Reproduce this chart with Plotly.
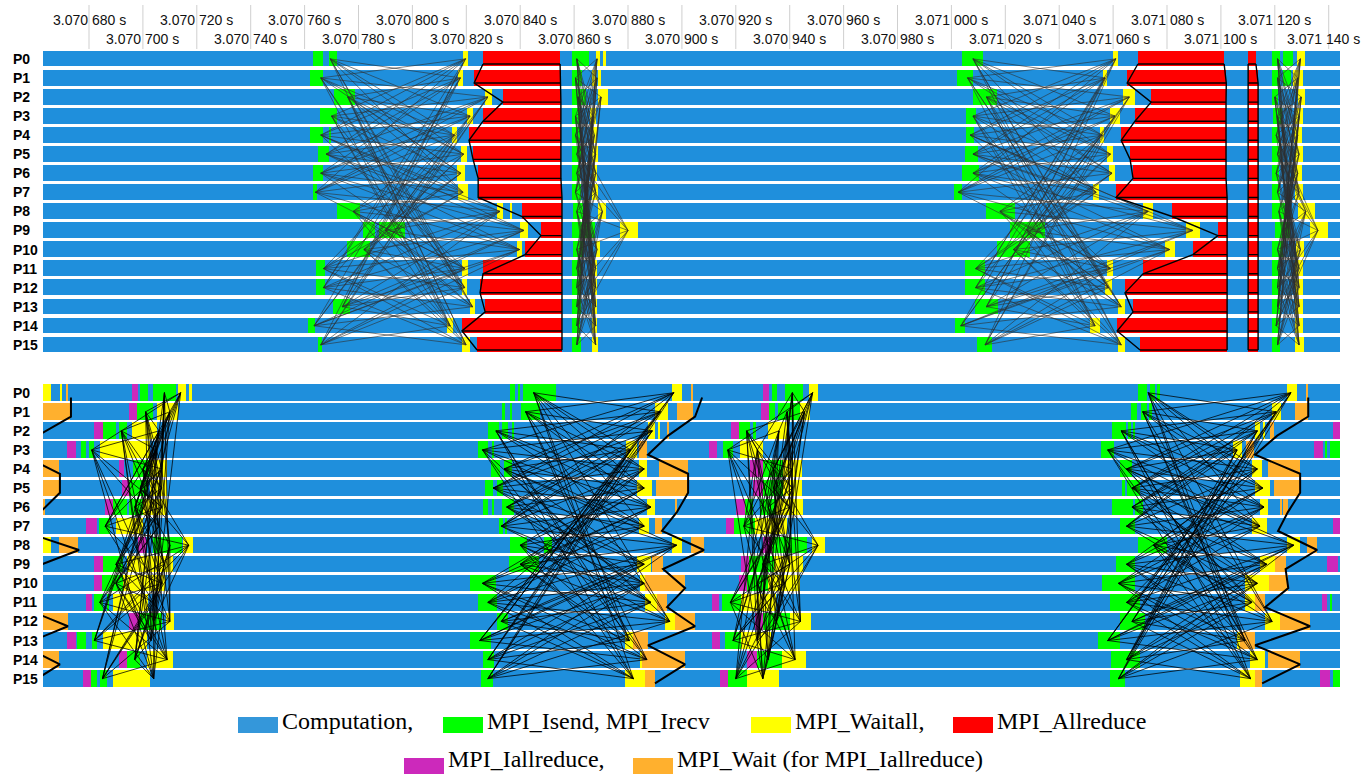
import plotly.graph_objects as go

W, H = 1362, 774

# ---------------------------------------------------------------- data ---
# Times are microseconds after 3.070 000 s.
VIEW_START, VIEW_END = 662.93, 1144.19
PROCESSES = ["P%d" % i for i in range(16)]

TICK_TIMES = [680, 700, 720, 740, 760, 780, 800, 820, 840, 860, 880, 900,
              920, 940, 960, 980, 1000, 1020, 1040, 1060, 1080, 1100, 1120, 1140]
TICK_LABELS = ["3.070 680 s", "3.070 700 s", "3.070 720 s", "3.070 740 s",
               "3.070 760 s", "3.070 780 s", "3.070 800 s", "3.070 820 s",
               "3.070 840 s", "3.070 860 s", "3.070 880 s", "3.070 900 s",
               "3.070 920 s", "3.070 940 s", "3.070 960 s", "3.070 980 s",
               "3.071 000 s", "3.071 020 s", "3.071 040 s", "3.071 060 s",
               "3.071 080 s", "3.071 100 s", "3.071 120 s", "3.071 140 s"]

# communication partners of every rank (4x4 periodic grid, 8 neighbours)
PARTNERS = [
    [1, 3, 4, 5, 7, 12, 13, 15], [0, 2, 4, 5, 6, 12, 13, 14],
    [1, 3, 5, 6, 7, 13, 14, 15], [0, 2, 4, 6, 7, 12, 14, 15],
    [0, 1, 3, 5, 7, 8, 9, 11], [0, 1, 2, 4, 6, 8, 9, 10],
    [1, 2, 3, 5, 7, 9, 10, 11], [0, 2, 3, 4, 6, 8, 10, 11],
    [4, 5, 7, 9, 11, 12, 13, 15], [4, 5, 6, 8, 10, 12, 13, 14],
    [5, 6, 7, 9, 11, 13, 14, 15], [4, 6, 7, 8, 10, 12, 14, 15],
    [0, 1, 3, 8, 9, 11, 13, 15], [0, 1, 2, 8, 9, 10, 12, 14],
    [1, 2, 3, 9, 10, 11, 13, 15], [0, 2, 3, 8, 10, 11, 12, 14],
]

# ---- blocking version (upper timeline)
TOP_ISEND = [
    [(763.1, 766.8), (769.1, 772.0), (859.2, 865.5), (1003.9, 1011.7), (1119.0, 1122.0), (1123.1, 1126.8)],
    [(762.0, 766.8), (859.2, 863.0), (1002.1, 1008.0), (1119.0, 1122.0), (1123.1, 1126.0)],
    [(770.9, 778.7), (859.2, 864.4), (1008.0, 1016.9), (1119.0, 1121.2)],
    [(765.7, 772.0), (859.2, 862.2), (1005.4, 1009.1), (1119.5, 1122.5)],
    [(762.0, 766.8), (769.1, 769.8), (859.2, 862.2), (1005.4, 1008.4), (1119.0, 1121.5)],
    [(765.0, 769.1), (859.2, 862.5), (1005.1, 1009.9), (1119.0, 1122.0)],
    [(763.1, 766.8), (859.2, 862.0), (1003.9, 1010.3), (1119.0, 1121.5)],
    [(763.1, 764.6), (859.2, 862.5), (1001.0, 1003.9), (1119.0, 1122.0)],
    [(772.0, 780.6), (859.6, 863.3), (1012.8, 1023.6), (1119.0, 1123.8)],
    [(781.7, 786.0), (787.5, 797.3), (859.2, 867.8), (1021.8, 1034.7), (1120.1, 1125.7)],
    [(775.7, 784.3), (859.6, 863.3), (1016.9, 1029.2), (1119.0, 1123.0)],
    [(764.2, 767.6), (859.2, 862.5), (1005.1, 1012.5), (1119.0, 1122.0)],
    [(764.2, 767.6), (859.2, 862.5), (1005.1, 1012.5), (1119.0, 1122.0)],
    [(770.5, 776.9), (859.2, 862.5), (1008.8, 1017.3), (1119.0, 1122.0)],
    [(761.3, 763.9), (859.2, 862.0), (1001.4, 1005.1), (1119.0, 1121.5)],
    [(765.0, 766.5), (859.2, 862.5), (1009.5, 1015.1), (1119.0, 1122.0)],
]
TOP_WAITALL = [
    [(818.8, 820.6), (868.1, 869.6), (870.7, 871.8), (1060.0, 1061.8), (1128.3, 1131.2)],
    [(816.9, 818.8), (866.7, 868.0), (869.0, 870.0), (1056.3, 1057.8), (1126.8, 1130.5)],
    [(827.0, 829.5), (868.9, 872.6), (1063.7, 1068.1), (1128.6, 1131.2)],
    [(820.3, 822.5), (865.9, 868.1), (1058.9, 1062.6), (1127.5, 1130.5)],
    [(814.7, 816.6), (866.0, 868.5), (1055.2, 1056.6), (1127.0, 1130.0)],
    [(818.0, 820.3), (866.5, 869.0), (1057.8, 1060.0), (1127.5, 1130.5)],
    [(816.6, 819.5), (866.5, 868.5), (1058.5, 1060.7), (1127.0, 1130.0)],
    [(816.9, 820.6), (866.5, 869.0), (1052.6, 1054.8), (1127.5, 1130.5)],
    [(831.4, 833.6), (836.2, 837.0), (868.9, 871.8), (1071.1, 1074.8), (1128.6, 1134.9)],
    [(839.9, 842.9), (877.0, 883.7), (1087.1, 1092.2), (1133.1, 1139.8)],
    [(838.8, 840.7), (868.1, 869.6), (1079.3, 1083.0), (1128.0, 1131.0)],
    [(818.4, 820.6), (866.5, 868.5), (1057.8, 1060.0), (1127.5, 1130.5)],
    [(818.4, 820.3), (866.5, 868.5), (1057.0, 1059.6), (1127.5, 1130.5)],
    [(821.4, 823.2), (866.5, 868.5), (1061.8, 1064.4), (1127.5, 1130.5)],
    [(812.8, 815.1), (866.5, 868.5), (1051.4, 1055.2), (1127.5, 1130.5)],
    [(818.4, 821.4), (866.5, 869.0), (1061.8, 1064.4), (1127.5, 1131.0)],
]
# three MPI_Allreduce calls, (enter, leave) per rank
ALLREDUCE_1 = [(826.2, 854.8), (822.9, 855.0), (833.6, 855.1), (826.2, 855.1),
               (821.0, 855.1), (822.5, 855.1), (824.4, 855.1), (824.4, 855.5),
               (840.7, 855.5), (847.7, 855.5), (841.8, 855.5), (826.2, 855.5),
               (825.1, 855.5), (827.0, 855.5), (818.4, 855.5), (824.0, 855.5)]
ALLREDUCE_2 = [(1069.2, 1101.2), (1065.2, 1102.0), (1074.1, 1101.9), (1068.1, 1101.9),
               (1063.0, 1101.9), (1066.3, 1101.9), (1067.4, 1101.9), (1061.1, 1102.3),
               (1081.9, 1102.3), (1098.9, 1102.3), (1089.6, 1102.3), (1071.1, 1102.3),
               (1064.4, 1102.3), (1067.4, 1102.3), (1061.5, 1102.3), (1070.0, 1102.3)]
ALLREDUCE_3 = [(1110.1, 1113.0), (1110.1, 1113.8), (1110.1, 1113.8), (1110.0, 1113.8),
               (1110.0, 1113.8), (1110.0, 1113.8), (1110.0, 1113.8), (1110.1, 1113.8),
               (1110.1, 1113.8), (1110.2, 1113.8), (1110.1, 1113.8), (1110.1, 1113.8),
               (1110.1, 1113.8), (1110.1, 1113.8), (1110.1, 1113.8), (1110.1, 1113.8)]

# message send / receive instants per rank, one phase each
TOP_SEND = [
    [769.5, 766.0, 776.0, 770.0, 766.0, 768.0, 766.0, 764.0, 778.0, 790.0, 782.0, 767.0, 767.0, 774.0, 763.5, 766.0],
    [861.0, 860.5, 861.5, 860.5, 860.5, 861.0, 861.0, 860.5, 861.0, 863.0, 861.0, 861.0, 861.0, 861.0, 861.0, 861.0],
    [1008.0, 1006.0, 1013.0, 1008.0, 1007.0, 1008.0, 1008.0, 1002.5, 1018.0, 1028.0, 1023.0, 1009.0, 1009.0, 1013.0, 1003.5, 1012.5],
    [1121.0, 1121.0, 1120.0, 1121.0, 1120.5, 1121.0, 1120.5, 1121.0, 1121.5, 1123.0, 1121.0, 1121.0, 1121.0, 1121.0, 1120.5, 1121.0],
]
TOP_RECV = [
    [819.7, 817.8, 828.0, 821.4, 815.6, 819.0, 818.0, 818.8, 832.5, 841.4, 839.8, 819.5, 819.4, 822.3, 814.0, 819.9],
    [868.5, 868.5, 870.0, 867.0, 867.5, 868.0, 868.0, 868.0, 870.5, 880.0, 868.5, 868.0, 868.0, 868.0, 868.0, 868.0],
    [1061.0, 1057.0, 1066.0, 1060.7, 1056.0, 1059.0, 1059.6, 1053.7, 1073.0, 1089.6, 1081.0, 1059.0, 1058.3, 1063.0, 1053.3, 1063.0],
    [1129.5, 1128.5, 1129.8, 1129.0, 1128.5, 1129.0, 1128.5, 1129.0, 1131.5, 1136.0, 1129.5, 1129.0, 1129.0, 1129.0, 1129.0, 1129.0],
]

# ---- non-blocking version (lower timeline)
BOT_IALLREDUCE = [
    [(696.0, 698.2), (930.1, 932.3)],
    [(694.8, 697.8), (929.4, 932.3)],
    [(681.9, 685.2), (918.2, 921.2), (1141.6, 1144.2)],
    [(671.8, 675.2), (910.1, 913.0), (1134.6, 1137.9)],
    [(691.1, 693.0), (925.3, 930.1)],
    [(692.2, 694.8), (926.4, 930.1)],
    [(686.0, 688.9), (920.1, 923.4)],
    [(678.9, 683.0), (916.4, 919.4), (1141.6, 1144.2)],
    [(698.2, 701.2), (930.1, 933.4)],
    [(681.9, 685.2), (922.0, 925.0), (1139.4, 1143.5)],
    [(681.9, 684.8), (921.0, 924.0)],
    [(678.9, 681.1), (911.2, 913.8), (1137.6, 1139.4)],
    [(694.8, 698.6), (927.0, 930.0)],
    [(671.8, 675.2), (911.0, 914.0)],
    [(691.1, 694.1), (924.0, 928.0)],
    [(677.8, 680.7), (914.0, 917.0), (1136.8, 1140.5)],
]
BOT_ISEND = [
    [(698.9, 701.9), (703.8, 712.3), (836.2, 838.1), (839.2, 839.9), (841.1, 853.3), (933.4, 935.3), (938.3, 945.0), (1069.2, 1072.6), (1073.7, 1075.6), (1076.3, 1077.4)],
    [(697.8, 703.8), (833.3, 834.4), (836.2, 837.0), (840.3, 847.4), (932.3, 934.6), (935.7, 943.8), (1066.6, 1068.9), (1070.4, 1072.6), (1073.3, 1074.4)],
    [(685.2, 690.0), (691.1, 694.1), (828.1, 832.1), (833.3, 835.5), (837.0, 837.7), (921.2, 925.3), (926.4, 927.5), (1059.6, 1064.8), (1065.5, 1066.6), (1067.4, 1068.1)],
    [(677.0, 678.9), (680.0, 681.9), (824.4, 828.1), (829.5, 830.3), (915.3, 919.0), (1055.5, 1060.4), (1138.6, 1139.4), (1140.5, 1144.2)],
    [(696.3, 702.6), (829.2, 832.5), (834.0, 837.0), (930.1, 937.5), (1062.6, 1067.0)],
    [(694.8, 701.5), (827.0, 829.9), (831.4, 833.6), (930.1, 937.5), (1063.3, 1064.4), (1065.2, 1070.0)],
    [(688.9, 694.1), (694.8, 700.0), (826.2, 828.1), (829.5, 830.3), (833.3, 837.7), (923.4, 926.4), (929.0, 935.0), (1059.6, 1067.4), (1068.1, 1071.1)],
    [(683.7, 687.8), (832.1, 833.6), (834.4, 835.0), (919.4, 927.1), (1062.6, 1068.1)],
    [(703.8, 714.5), (836.2, 842.5), (848.8, 851.8), (933.4, 946.4), (1069.2, 1080.0)],
    [(685.2, 692.6), (836.0, 847.0), (925.0, 934.0), (1061.0, 1068.0)],
    [(684.8, 692.6), (821.4, 831.0), (924.0, 932.0), (1056.0, 1068.0)],
    [(681.9, 685.2), (686.7, 687.3), (824.4, 831.4), (915.0, 922.0), (1058.9, 1070.0), (1140.5, 1141.2)],
    [(698.6, 707.1), (831.4, 835.5), (930.0, 940.0), (1062.6, 1071.9)],
    [(675.6, 678.9), (681.1, 683.0), (821.4, 829.0), (916.0, 922.0), (1054.4, 1062.6)],
    [(694.1, 699.0), (826.2, 830.3), (928.0, 937.0), (1059.2, 1070.0)],
    [(680.7, 683.0), (684.1, 686.7), (825.5, 830.0), (917.0, 924.0), (1058.9, 1064.4), (1141.6, 1144.2)],
]
BOT_WAITALL = [
    [(662.9, 665.9), (669.2, 670.0), (713.0, 716.0), (717.1, 718.2), (896.3, 900.1), (947.2, 950.5), (1124.5, 1128.3)],
    [(705.2, 713.0), (890.0, 894.9), (943.8, 947.5), (1119.0, 1122.3)],
    [(696.0, 705.2), (887.4, 890.0), (891.1, 891.9), (932.0, 939.0), (1112.7, 1114.5), (1115.5, 1116.4)],
    [(684.1, 702.6), (879.3, 883.4), (921.6, 930.1), (1104.5, 1107.8)],
    [(702.6, 709.0), (884.1, 887.1), (937.5, 944.6), (1111.5, 1115.3)],
    [(702.6, 709.0), (883.4, 888.9), (937.5, 944.6), (1112.7, 1118.2)],
    [(700.0, 709.0), (887.1, 890.0), (935.0, 945.0), (1114.5, 1117.5)],
    [(690.0, 700.0), (884.1, 887.8), (927.1, 939.0), (1111.5, 1117.1)],
    [(662.9, 665.9), (714.9, 718.6), (896.3, 900.1), (948.3, 953.1), (1124.5, 1129.4)],
    [(694.1, 711.0), (883.5, 888.5), (934.0, 945.0), (1114.5, 1120.0)],
    [(692.6, 708.2), (884.5, 888.0), (932.0, 944.0), (1108.9, 1118.0)],
    [(688.9, 701.9), (886.3, 890.8), (922.0, 935.0), (1108.9, 1114.5)],
    [(708.5, 711.5), (893.7, 897.5), (940.0, 948.0), (1116.4, 1122.0)],
    [(685.2, 701.5), (878.9, 881.9), (922.0, 933.0), (1106.0, 1112.7)],
    [(701.5, 711.2), (884.5, 890.0), (937.0, 946.0), (1110.8, 1116.4)],
    [(688.9, 702.6), (878.9, 886.3), (924.0, 936.0), (1107.1, 1114.5)],
]
BOT_WAIT = [
    [(671.8, 672.2), (903.4, 904.1), (1131.6, 1132.4)],
    [(662.9, 673.0), (898.2, 904.1), (1127.5, 1132.4)],
    [(894.5, 895.2), (1118.2, 1119.7)],
    [(884.1, 887.1), (1109.3, 1112.3)],
    [(662.9, 668.9), (891.5, 902.3), (1117.5, 1129.4)],
    [(662.9, 668.9), (890.4, 902.3), (1119.7, 1129.4)],
    [(662.9, 663.7), (897.5, 898.2), (1122.0, 1122.7), (1123.0, 1124.9)],
    [(890.0, 892.6)],
    [(668.9, 675.9), (903.4, 908.2), (1132.0, 1135.7)],
    [(889.0, 893.0), (1120.0, 1124.0)],
    [(886.3, 901.2), (1118.0, 1125.0)],
    [(890.8, 894.5), (1112.7, 1116.4)],
    [(662.9, 672.2), (897.5, 904.9), (1122.0, 1133.1)],
    [(881.9, 887.4), (1107.1, 1112.7)],
    [(662.9, 668.9), (885.2, 901.2), (1117.5, 1129.4)],
    [(886.3, 890.0), (1112.7, 1115.3)],
]
# completion instant of each MPI_Wait, per rank, for three Iallreduce rounds
WAIT_DONE = [
    [673.3, 673.3, 661.0, 655.0, 669.2, 669.2, 662.0, 655.0, 676.3, 658.0, 655.0, 655.0, 672.2, 655.0, 669.2, 658.0],
    [907.5, 904.9, 894.9, 887.4, 902.3, 902.3, 898.2, 892.6, 908.2, 893.0, 901.2, 894.5, 904.9, 887.4, 901.2, 890.0],
    [1132.4, 1132.4, 1120.9, 1112.7, 1129.4, 1129.4, 1124.9, 1121.2, 1135.7, 1124.0, 1125.0, 1116.4, 1133.1, 1112.7, 1129.4, 1115.3],
]
BOT_SEND = [
    [708.0, 701.0, 692.0, 681.0, 700.0, 699.0, 697.0, 686.0, 710.0, 690.0, 690.0, 684.0, 704.0, 682.0, 697.0, 685.0],
    [845.0, 842.0, 831.0, 826.0, 834.0, 830.0, 835.0, 833.0, 840.0, 840.0, 826.0, 828.0, 833.0, 825.0, 828.0, 828.0],
    [941.0, 939.0, 924.0, 917.0, 934.0, 934.0, 932.0, 923.0, 940.0, 930.0, 928.0, 918.0, 935.0, 919.0, 932.0, 920.0],
    [1073.0, 1071.0, 1063.0, 1058.0, 1065.0, 1067.0, 1067.0, 1065.0, 1075.0, 1065.0, 1062.0, 1065.0, 1067.0, 1058.0, 1065.0, 1062.0],
]
BOT_RECV = [
    [714.0, 710.0, 706.0, 705.0, 707.0, 707.0, 707.0, 706.0, 717.0, 708.0, 707.0, 704.0, 710.0, 703.0, 709.0, 704.0],
    [897.0, 892.0, 889.0, 881.0, 886.0, 886.0, 888.5, 886.0, 898.0, 886.0, 886.0, 888.5, 895.5, 880.5, 887.0, 882.0],
    [948.5, 945.5, 936.0, 928.0, 941.0, 941.0, 940.0, 935.0, 950.5, 940.0, 938.0, 930.0, 944.0, 928.0, 942.0, 930.0],
    [1126.0, 1120.5, 1113.5, 1106.0, 1113.5, 1115.5, 1116.0, 1114.5, 1127.0, 1117.0, 1113.5, 1111.5, 1119.0, 1109.0, 1113.5, 1111.0],
]

# ------------------------------------------------------------- styling ---
C_COMP = "#1f8fdc"
C_COMP_KEY = "#3497da"
C_ISEND = "#00ff00"
C_WAITALL = "#ffff00"
C_ALLRED = "#ff0000"
C_IALLRED = "#cc29bb"
C_WAIT = "#ffb02e"

PX_LEFT, PX_RIGHT = 43, 1340
TOP_BAND = (49.3, 354.4)
BOT_BAND = (383.2, 688.2)


def py(px):
    return 1 - px / H


def px(x):
    return x / W


fig = go.Figure()


def add_bars(segments, color, xa, ya, width):
    ys, lens, bases = [], [], []
    for rank, segs in enumerate(segments):
        for s, e in segs:
            ys.append(rank)
            bases.append(s)
            lens.append(e - s)
    fig.add_trace(go.Bar(orientation="h", y=ys, x=lens, base=bases, width=width,
                         marker=dict(color=color, line=dict(width=0)),
                         xaxis=xa, yaxis=ya, showlegend=False, hoverinfo="skip"))


def add_messages(sends, recvs, xa, ya, color, lw):
    xs, ys = [], []
    for send, recv in zip(sends, recvs):
        for src, dsts in enumerate(PARTNERS):
            for dst in dsts:
                xs += [send[src], recv[dst], None]
                ys += [src, dst, None]
    fig.add_trace(go.Scatter(x=xs, y=ys, mode="lines", line=dict(color=color, width=lw),
                             xaxis=xa, yaxis=ya, showlegend=False, hoverinfo="skip"))


def add_collective(calls, xa, ya):
    xs, ys = [], []
    for call in calls:
        off = 0.27
        xs += [s for s, _ in call] + [None]
        ys += [r + off for r in range(16)] + [None]
        xs += [e for _, e in call] + [None]
        ys += [r + off for r in range(16)] + [None]
        for r, (s, e) in enumerate(call):
            xs += [s, e, None]
            ys += [r + off, r + off, None]
    fig.add_trace(go.Scatter(x=xs, y=ys, mode="lines", line=dict(color="black", width=1.4),
                             xaxis=xa, yaxis=ya, showlegend=False, hoverinfo="skip"))


full_row = [[(VIEW_START, VIEW_END)] for _ in PROCESSES]

# upper timeline
add_bars(full_row, C_COMP, "x", "y", 0.83)
add_bars(TOP_ISEND, C_ISEND, "x", "y", 0.83)
add_bars(TOP_WAITALL, C_WAITALL, "x", "y", 0.83)
add_bars([[a, b, c] for a, b, c in zip(ALLREDUCE_1, ALLREDUCE_2, ALLREDUCE_3)], C_ALLRED, "x", "y", 0.83)
add_messages(TOP_SEND, TOP_RECV, "x", "y", "rgba(45,45,45,0.85)", 0.7)
add_collective([ALLREDUCE_1, ALLREDUCE_2, ALLREDUCE_3], "x", "y")

# lower timeline
add_bars(full_row, C_COMP, "x2", "y2", 0.87)
add_bars(BOT_IALLREDUCE, C_IALLRED, "x2", "y2", 0.87)
add_bars(BOT_ISEND, C_ISEND, "x2", "y2", 0.87)
add_bars(BOT_WAITALL, C_WAITALL, "x2", "y2", 0.87)
add_bars(BOT_WAIT, C_WAIT, "x2", "y2", 0.87)
add_messages(BOT_SEND, BOT_RECV, "x2", "y2", "rgba(0,0,0,0.9)", 0.85)
zx, zy = [], []
for done in WAIT_DONE:
    zx += done + [None]
    zy += [r + 0.25 for r in range(16)] + [None]
fig.add_trace(go.Scatter(x=zx, y=zy, mode="lines", line=dict(color="black", width=2),
                         xaxis="x2", yaxis="y2", showlegend=False, hoverinfo="skip"))

# --------------------------------------------------------------- layout ---
xdom = [px(PX_LEFT), px(PX_RIGHT)]
axis_common = dict(visible=False, showgrid=False, zeroline=False, fixedrange=True)
fig.update_layout(
    width=W, height=H, margin=dict(l=0, r=0, t=0, b=0),
    paper_bgcolor="white", plot_bgcolor="white", barmode="overlay", bargap=0,
    xaxis=dict(domain=xdom, range=[VIEW_START, VIEW_END], anchor="y", **axis_common),
    yaxis=dict(domain=[py(TOP_BAND[1]), py(TOP_BAND[0])], range=[15.5, -0.5], anchor="x", **axis_common),
    xaxis2=dict(domain=xdom, range=[VIEW_START, VIEW_END], anchor="y2", **axis_common),
    yaxis2=dict(domain=[py(BOT_BAND[1]), py(BOT_BAND[0])], range=[15.5, -0.5], anchor="x2", **axis_common),
)

shapes, annotations = [], []

# time ruler
last = len(TICK_TIMES) - 1
for i, (t, lab) in enumerate(zip(TICK_TIMES, TICK_LABELS)):
    shapes.append(dict(type="line", xref="x", yref="paper", x0=t, x1=t,
                       y0=py(49), y1=py(5), line=dict(color="#cfcfcf", width=1)))
    tick_font = dict(family="Liberation Sans, Arial, sans-serif", size=14, color="#111")
    if i == last:
        # keep the rightmost stamp inside the page
        annotations.append(dict(x=1.0, y=py(39), xref="paper", yref="paper", text=lab,
                                showarrow=False, xanchor="right", yanchor="middle", font=tick_font))
    else:
        annotations.append(dict(x=t, y=py(20 if i % 2 == 0 else 39), xref="x", yref="paper",
                                text=lab, showarrow=False, xanchor="center", yanchor="middle",
                                font=tick_font))

# process names
for yref in ("y", "y2"):
    for r, name in enumerate(PROCESSES):
        annotations.append(dict(x=px(11), y=r, xref="paper", yref=yref, text="<b>%s</b>" % name,
                                showarrow=False, xanchor="left", yanchor="middle",
                                font=dict(family="Liberation Sans, Arial, sans-serif", size=14, color="black")))

# key: swatch left edge, label, swatch top, swatch bottom, text box bottom
KEY = [
    (C_COMP_KEY, "Computation,", 238, 717, 733, 736),
    (C_ISEND, "MPI_Isend, MPI_Irecv", 443, 717, 733, 736),
    (C_WAITALL, "MPI_Waitall,", 751, 717, 733, 736),
    (C_ALLRED, "MPI_Allreduce", 953, 717, 733, 736),
    (C_IALLRED, "MPI_Iallreduce,", 404, 758, 774, 774),
    (C_WAIT, "MPI_Wait (for MPI_Iallreduce)", 633, 758, 774, 774),
]
for color, label, x0, top, bottom, tb in KEY:
    shapes.append(dict(type="rect", xref="paper", yref="paper", x0=px(x0), x1=px(x0 + 40),
                       y0=py(bottom), y1=py(top), fillcolor=color, line=dict(width=0)))
    annotations.append(dict(x=px(x0 + 42), y=py(tb), xref="paper", yref="paper", text=label,
                            showarrow=False, xanchor="left", yanchor="bottom",
                            font=dict(family="Liberation Serif, Times New Roman, serif", size=24, color="black")))

fig.update_layout(shapes=shapes, annotations=annotations)
fig.write_html("out.html")
